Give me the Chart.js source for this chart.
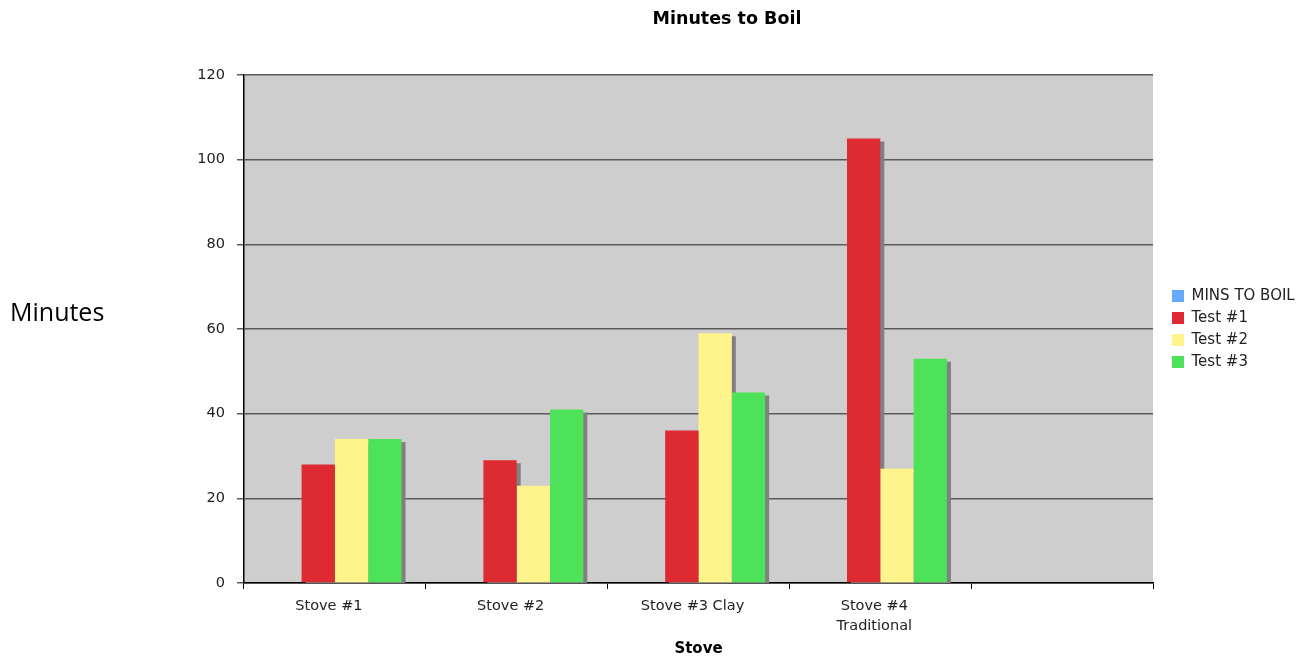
<!DOCTYPE html>
<html>
<head>
<meta charset="utf-8">
<script src="https://cdn.jsdelivr.net/npm/chart.js@4/dist/chart.umd.min.js"></script>
<style>
  html, body { margin: 0; padding: 0; background: #ffffff; }
  #c { display: block; }
</style>
</head>
<body>
<canvas id="c" width="1301" height="658"></canvas>
<script>
// ---- data ----
const categories = ['Stove #1', 'Stove #2', 'Stove #3 Clay', ['Stove #4', 'Traditional'], ''];
const seriesNames = ['MINS TO BOIL', 'Test #1', 'Test #2', 'Test #3'];
const minsToBoil = [null, null, null, null, null];
const test1 = [28, 29, 36, 105, null];
const test2 = [34, 23, 59, 27, null];
const test3 = [34, 41, 45, 53, null];
const yTicks = [0, 20, 40, 60, 80, 100, 120];

const colors = ['#66aaff', '#de2b33', '#fff38c', '#4de259'];

const plotBg = {
  id: 'plotBg',
  beforeDraw(chart) {
    const {ctx, chartArea: a} = chart;
    ctx.save();
    ctx.fillStyle = '#cecece';
    ctx.fillRect(a.left, a.top, a.right - a.left, a.bottom - a.top);
    ctx.restore();
  }
};

const barShadow = {
  id: 'barShadow',
  beforeDatasetsDraw(chart) {
    const {ctx, chartArea: a} = chart;
    ctx.save();
    ctx.beginPath();
    ctx.rect(a.left, a.top, a.right - a.left, a.bottom - a.top);
    ctx.clip();
    ctx.fillStyle = '#808080';
    chart.data.datasets.forEach((ds, i) => {
      const meta = chart.getDatasetMeta(i);
      meta.data.forEach((el, j) => {
        if (ds.data[j] == null) return;
        const p = el.getProps(['x', 'y', 'base', 'width'], true);
        ctx.fillRect(p.x - p.width / 2 + 4, p.y + 3, p.width, p.base - p.y);
      });
    });
    ctx.restore();
  }
};

const sideText = {
  id: 'sideText',
  afterDraw(chart) {
    const {ctx} = chart;
    ctx.save();
    ctx.fillStyle = '#000';
    ctx.font = '25px "Open Sans"';
    ctx.textAlign = 'left';
    ctx.textBaseline = 'middle';
    ctx.fillText('Minutes', 10, 314);
    ctx.restore();
  }
};

const legendTweak = {
  id: 'legendTweak',
  afterInit(chart) {
    const lg = chart.legend;
    if (!lg) return;
    const origFit = lg.fit.bind(lg);
    lg.fit = function () { origFit(); this.width = 148; };
  },
  afterLayout(chart) {
    const lg = chart.legend;
    if (!lg) return;
    lg.left += 12;
    lg.right += 12;
  }
};

const datasets = [minsToBoil, test1, test2, test3].map((d, i) => ({
  label: seriesNames[i],
  data: d,
  backgroundColor: colors[i],
  borderWidth: 0
}));

new Chart(document.getElementById('c'), {
  type: 'bar',
  data: { labels: categories, datasets },
  plugins: [plotBg, barShadow, sideText, legendTweak],
  options: {
    responsive: false,
    animation: false,
    devicePixelRatio: 1,
    layout: { padding: { left: 153, right: 0, top: 0, bottom: 0 } },
    datasets: { bar: { categoryPercentage: 0.733, barPercentage: 1.0 } },
    plugins: {
      tooltip: { enabled: false },
      title: {
        display: true,
        text: 'Minutes to Boil',
        color: '#000',
        font: { family: '"DejaVu Sans"', size: 17.5, weight: 'bold', lineHeight: 1.2 },
        padding: { top: 9, bottom: 45 }
      },
      legend: {
        position: 'right',
        align: 'center',
        fullSize: false,
        labels: {
          boxWidth: 12,
          boxHeight: 12,
          padding: 7,
          color: '#222',
          font: { family: '"DejaVu Sans"', size: 15 }
        }
      }
    },
    scales: {
      x: {
        afterFit(scale) { scale.height = 75; },
        grid: {
          display: true,
          drawOnChartArea: false,
          drawTicks: true,
          tickLength: 6,
          color: '#000',
          tickColor: '#000',
          offset: true
        },
        border: { display: true, color: '#000', width: 1.5 },
        ticks: {
          color: '#222',
          padding: 7,
          labelOffset: -6,
          maxRotation: 0,
          autoSkip: false,
          font: { family: '"DejaVu Sans"', size: 14.5, lineHeight: 1.38 }
        },
        title: {
          display: true,
          text: 'Stove',
          color: '#000',
          font: { family: '"DejaVu Sans"', size: 15, weight: 'bold', lineHeight: 1.2 },
          padding: { top: 0, bottom: 0 }
        }
      },
      y: {
        min: 0,
        max: 120,
        afterFit(scale) { scale.width = 91; },
        afterBuildTicks(scale) { scale.ticks = yTicks.map(v => ({ value: v })); },
        grid: {
          color: '#5a5a5a',
          lineWidth: 1.5,
          tickLength: 7,
          tickColor: '#5a5a5a'
        },
        border: { display: true, color: '#000', width: 1.5 },
        ticks: {
          color: '#222',
          padding: 12,
          font: { family: '"DejaVu Sans"', size: 14.5 }
        }
      }
    }
  }
});
</script>
</body>
</html>
